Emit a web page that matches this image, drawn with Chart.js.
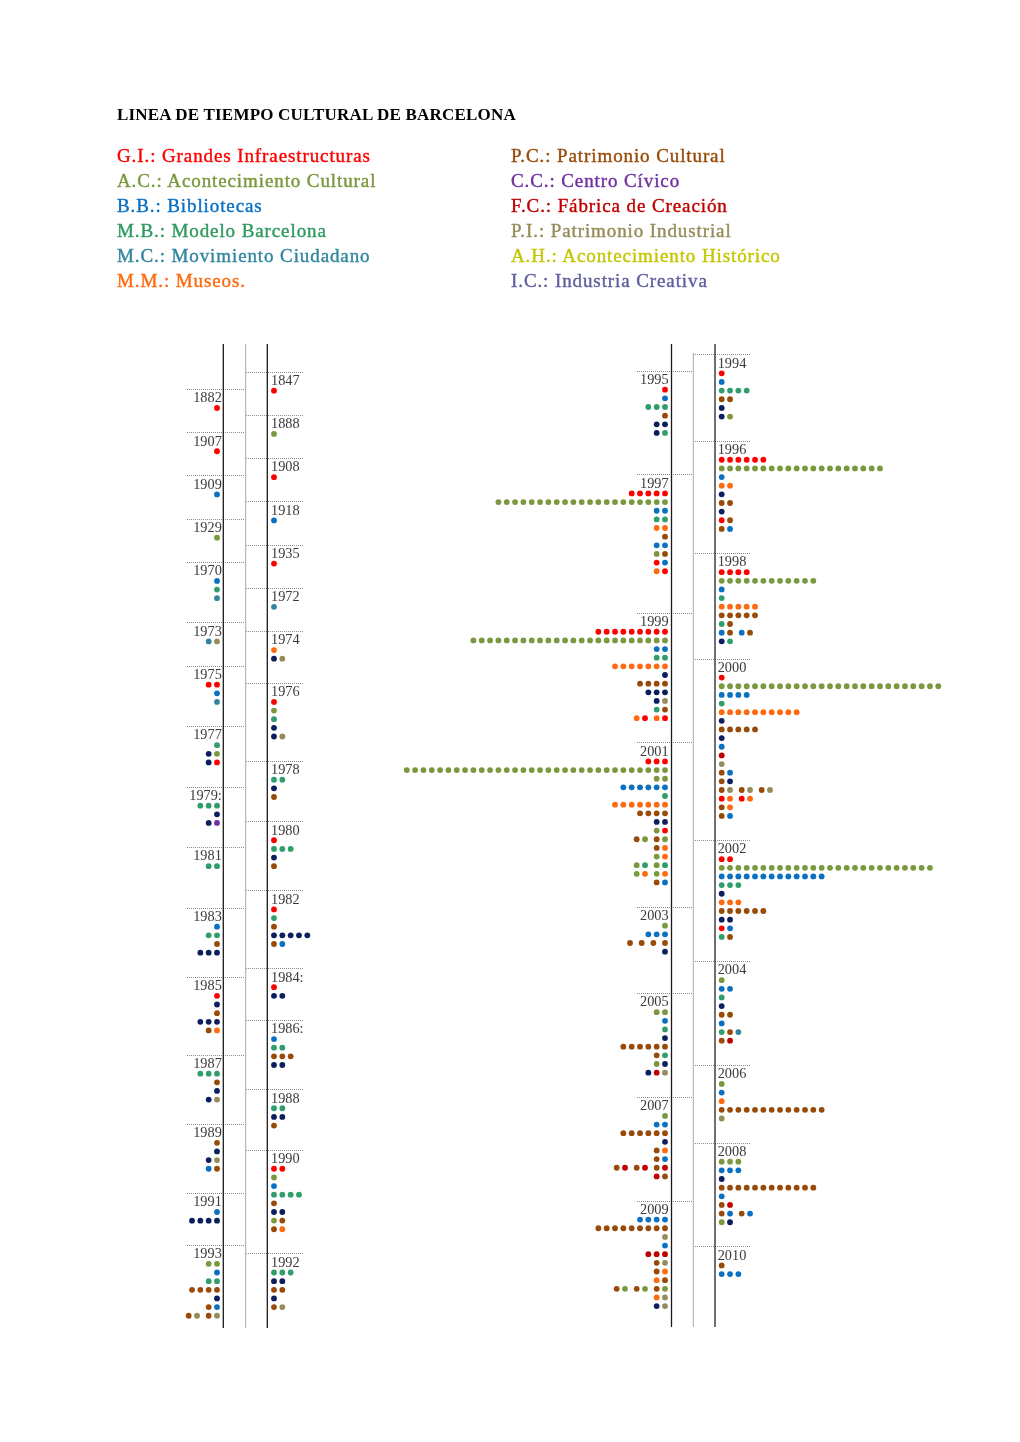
<!DOCTYPE html>
<html lang="es">
<head>
<meta charset="utf-8">
<title>Linea de tiempo cultural de Barcelona</title>
<script src="https://cdn.jsdelivr.net/npm/chart.js@4.4.1/dist/chart.umd.min.js"></script>
<style>
  html, body { margin:0; padding:0; background:#ffffff; }
  #page { position:relative; width:1020px; height:1442px; overflow:hidden; }
  #chart { position:absolute; left:0; top:0; }
  .title { position:absolute; left:117px; top:105.8px; font:bold 17px/17px "Liberation Serif", serif; letter-spacing:0.2px; color:#000; white-space:nowrap; }
  .leg { position:absolute; font:19px/19px "Liberation Serif", serif; letter-spacing:0.9px; white-space:nowrap; -webkit-text-stroke:0.4px currentColor; }
</style>
</head>
<body>
<div id="page">
  <canvas id="chart" width="1020" height="1442"></canvas>
  <div class="title">LINEA DE TIEMPO CULTURAL DE BARCELONA</div>
  <div id="legend"></div>
</div>
<script>
// ================= DATA =================
// category codes (N = dark navy dots, not listed in the legend)
const categoryCodes = ['G','A','B','M','C','O','P','V','F','I','H','K','N'];
const categoryNames = ['Grandes Infraestructuras','Acontecimiento Cultural','Bibliotecas','Modelo Barcelona',
  'Movimiento Ciudadano','Museos','Patrimonio Cultural','Centro Cívico','Fábrica de Creación',
  'Patrimonio Industrial','Acontecimiento Histórico','Industria Creativa','Otros'];

const legendLeftCodes  = ['G','A','B','M','C','O'];
const legendLeftLabels = ['G.I.: Grandes Infraestructuras','A.C.: Acontecimiento Cultural','B.B.: Bibliotecas',
  'M.B.: Modelo Barcelona','M.C.: Movimiento Ciudadano','M.M.: Museos.'];
const legendRightCodes  = ['P','V','F','I','H','K'];
const legendRightLabels = ['P.C.: Patrimonio Cultural','C.C.: Centro Cívico','F.C.: Fábrica de Creación',
  'P.I.: Patrimonio Industrial','A.H.: Acontecimiento Histórico','I.C.: Industria Creativa'];

// Each year = list of rows; each row = dots from the axis outward.
// letter = category, optional number = repeat count, "_" = small gap.
const yearsLeftOuter = ['1882','1907','1909','1929','1970','1973','1975','1977','1979:','1981','1983','1985','1987','1989','1991','1993'];
const rowsLeftOuter = [
  ['G'], ['G'], ['B'], ['A'], ['B','M','C'], ['IC'], ['G2','B','C'], ['M','AN','GN'],
  ['M3','N','VN'], ['M2'], ['B','M2','P','N3'], ['G','N','P','N3','OP'], ['M3','P','N','IN'],
  ['P','N','IN','PB'], ['B','N4'], ['A2','B','M2','P4','N','BP','IP_IP']
];

const yearsLeftInner = ['1847','1888','1908','1918','1935','1972','1974','1976','1978','1980','1982','1984:','1986:','1988','1990','1992'];
const rowsLeftInner = [
  ['G'], ['A'], ['G'], ['B'], ['G'], ['C'], ['O','NI'], ['G','A','M','N','NI'], ['M2','N','P'],
  ['G','M3','N','P'], ['G','M','P','N5','PB'], ['G','N2'], ['B','M2','P3','N2'], ['M2','N2','P'],
  ['G2','A','B','M4','P','N2','AP','PO'], ['M3','N2','P2','N','PI']
];

const yearsRightInner = ['1995','1997','1999','2001','2003','2005','2007','2009'];
const rowsRightInner = [
  ['G','B','M3','P','N2','MN'],
  ['G5','A21','B2','M2','O2','P','B2','PA','BG','GO'],
  ['G9','A24','B2','M2','O7','N','P4','N3','IN','PM','GO_GO'],
  ['G3','A32','A2','B6','M','O7','P4','N2','GA','AP_AP','OP','OA','MA_MA','OA_OA','BP'],
  ['A','B3','P_P_P_P','N'],
  ['A2','B','M','N','P6','MP','NA','IFN'],
  ['A','B2','P6','N','OP','BP','FP_FP_FP','PF'],
  ['B4','P9','I','B','F3','IP','OP','PO','AP_AP_AP','IO','IN']
];

const yearsRightOuter = ['1994','1996','1998','2000','2002','2004','2006','2008','2010'];
const rowsRightOuter = [
  ['G','B','M4','P2','N','NA'],
  ['G6','A20','B','O2','N','P2','N','GP','PB'],
  ['G4','A12','B','M','O5','P5','MP','BP_BP','NM'],
  ['G','A27','B4','M','O10','N','P5','N','B','F','I','PB','PN','PI_PI_PI','GO_GO','PO','PB'],
  ['G2','A26','B13','M3','N','O3','P6','N2','GB','MP'],
  ['A','B2','M','N','P2','B','MPC','PF'],
  ['A','B','O','P13','I'],
  ['A3','B3','N','P12','B','PF','PB_PB','AN'],
  ['P','B3']
];

// ================= STYLE =================
const palette = {
  G:'#ff0000', A:'#7a983d', B:'#0a70c2', M:'#2f9e6b', C:'#31869e', O:'#ff6a10',
  P:'#984a08', V:'#7030a0', F:'#c00000', I:'#968c5a', H:'#c4c600', K:'#5f5f9e', N:'#0b1f5e'
};
const legendTextColor = Object.assign({}, palette, { M:'#2f9a60', O:'#ff6a10' });

// ================= LAYOUT =================
const DOT_STEP = 8.33, ROW_STEP = 8.645, GAP_STEP = 0.4, FIRST_ROW = 19, LABEL_BASE = 13.3;
const layoutShiftRows = { 1983: 2, 1997: 2, 1999: 2, 2005: 2, 2000: -0.8 };
const columnsLayout = [
  { years: yearsLeftOuter,  rows: rowsLeftOuter,  startY: 389,   anchorX: 217,   dir: -1, labelX: 221.8, align: 'right', lineX0: 187, lineX1: 245.5 },
  { years: yearsLeftInner,  rows: rowsLeftInner,  startY: 371.7, anchorX: 274,   dir:  1, labelX: 271,   align: 'left',  lineX0: 246, lineX1: 303 },
  { years: yearsRightInner, rows: rowsRightInner, startY: 370.7, anchorX: 665,   dir: -1, labelX: 668.6, align: 'right', lineX0: 637, lineX1: 693 },
  { years: yearsRightOuter, rows: rowsRightOuter, startY: 354.3, anchorX: 721.7, dir:  1, labelX: 717.7, align: 'left',  lineX0: 693, lineX1: 750 }
];
const axisLines = [
  { x: 223.3, y0: 344, y1: 1328, color: '#1a1a1a', w: 1.3 },
  { x: 245.7, y0: 344, y1: 1328, color: '#a8a8a8', w: 1 },
  { x: 267.3, y0: 344, y1: 1328, color: '#1a1a1a', w: 1.3 },
  { x: 671.5, y0: 344, y1: 1327, color: '#1a1a1a', w: 1.3 },
  { x: 693.3, y0: 353, y1: 1327, color: '#a8a8a8', w: 1 },
  { x: 715,   y0: 344, y1: 1327, color: '#333333', w: 1.4 }
];

function parseRow(str) {
  const out = []; let k = 0; const re = /([A-Z_])(\d*)/g; let m;
  while ((m = re.exec(str))) {
    const n = m[2] ? parseInt(m[2], 10) : 1;
    for (let i = 0; i < n; i++) {
      if (m[1] === '_') k += GAP_STEP; else { out.push({ code: m[1], k }); k += 1; }
    }
  }
  return out;
}

const groups = [];
const points = {};
columnsLayout.forEach(col => {
  let cursor = col.startY;
  col.years.forEach((label, gi) => {
    const yr = parseInt(label, 10);
    cursor += (layoutShiftRows[yr] || 0) * ROW_STEP;
    const lineY = cursor;
    groups.push({ label, lineY, col });
    const rows = col.rows[gi];
    rows.forEach((rs, r) => {
      const yv = lineY + FIRST_ROW + r * ROW_STEP;
      parseRow(rs).forEach(d => {
        (points[d.code] = points[d.code] || []).push({ x: col.anchorX + col.dir * d.k * DOT_STEP, y: yv });
      });
    });
    cursor = lineY + (rows.length + 4) * ROW_STEP;
  });
});

// legend (HTML text)
const legendEl = document.getElementById('legend');
function addLegend(codes, labels, left) {
  labels.forEach((t, i) => {
    const d = document.createElement('div');
    d.className = 'leg';
    d.textContent = t;
    d.style.left = left + 'px';
    d.style.top = (145.8 + 25 * i) + 'px';
    d.style.color = legendTextColor[codes[i]];
    legendEl.appendChild(d);
  });
}
addLegend(legendLeftCodes, legendLeftLabels, 117);
addLegend(legendRightCodes, legendRightLabels, 511);

// frame plugin: dotted year separators, year labels, vertical axes
const framePlugin = {
  id: 'frame',
  beforeDatasetsDraw(chart) {
    const { ctx, scales: { x, y } } = chart;
    ctx.save();
    groups.forEach(g => {
      const py = Math.round(y.getPixelForValue(g.lineY)) + 0.5;
      ctx.setLineDash([1, 1]);
      ctx.strokeStyle = '#8a8a8a';
      ctx.lineWidth = 1;
      ctx.beginPath();
      ctx.moveTo(x.getPixelForValue(g.col.lineX0), py);
      ctx.lineTo(x.getPixelForValue(g.col.lineX1), py);
      ctx.stroke();
      ctx.setLineDash([]);
      ctx.fillStyle = '#3a3a3a';
      ctx.font = '14.3px "Liberation Serif", serif';
      ctx.textAlign = g.col.align;
      ctx.textBaseline = 'alphabetic';
      ctx.fillText(g.label, x.getPixelForValue(g.col.labelX), y.getPixelForValue(g.lineY + LABEL_BASE));
    });
    ctx.setLineDash([]);
    axisLines.forEach(l => {
      ctx.strokeStyle = l.color;
      ctx.lineWidth = l.w;
      ctx.beginPath();
      ctx.moveTo(x.getPixelForValue(l.x), y.getPixelForValue(l.y0));
      ctx.lineTo(x.getPixelForValue(l.x), y.getPixelForValue(l.y1));
      ctx.stroke();
    });
    ctx.restore();
  }
};

const datasets = categoryCodes.filter(c => points[c]).map(c => ({
  label: categoryNames[categoryCodes.indexOf(c)],
  data: points[c],
  backgroundColor: palette[c],
  borderColor: palette[c],
  pointRadius: 2.9,
  pointHoverRadius: 2.9,
  pointBorderWidth: 0,
  showLine: false
}));

new Chart(document.getElementById('chart'), {
  type: 'scatter',
  data: { datasets },
  options: {
    responsive: false,
    animation: false,
    events: [],
    layout: { padding: 0, autoPadding: false },
    plugins: { legend: { display: false }, tooltip: { enabled: false }, title: { display: false } },
    scales: {
      x: { type: 'linear', min: 0, max: 1020, display: false },
      y: { type: 'linear', min: 0, max: 1442, reverse: true, display: false }
    }
  },
  plugins: [framePlugin]
});
</script>
</body>
</html>
